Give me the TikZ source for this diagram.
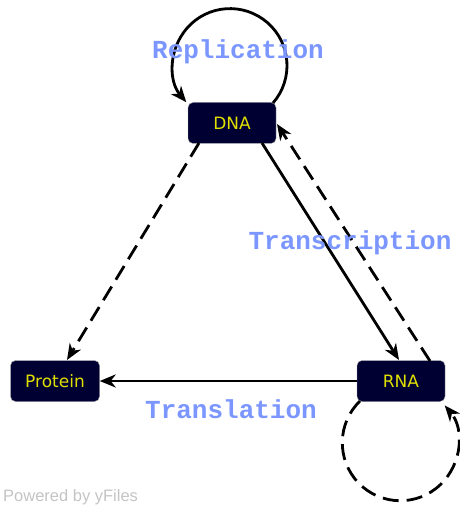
\documentclass[tikz,border=0pt]{standalone}
\usepackage{fontspec}
\setmainfont{Liberation Sans}
\newfontfamily\labfont{Liberation Mono}
\newfontfamily\nodefont{DejaVu Sans}
\usetikzlibrary{arrows.meta}
\definecolor{nodefill}{HTML}{000033}
\definecolor{nodetext}{HTML}{E0E000}
\definecolor{labblue}{HTML}{7B97FF}
\definecolor{wmark}{HTML}{C4C4C4}
\begin{document}
\begin{tikzpicture}[x=1pt,y=-1pt,
  molbox/.style={draw=gray!70,fill=nodefill,rounded corners=5pt,minimum height=41pt,inner sep=0pt,font=\nodefont\fontsize{17}{17}\selectfont,text=nodetext},
  edgelab/.style={font=\labfont\bfseries\fontsize{26}{26}\selectfont,text=labblue,inner sep=0pt},
  conn/.style={line width=2.8pt,-{Stealth[length=16pt,width=13pt,inset=5pt]}},
  dashconn/.style={conn,dash pattern=on 16pt off 8pt}]
\useasboundingbox (0,0) rectangle (459,505);
\node[molbox,minimum width=88pt] (dna) at (232,123) {DNA};
\node[molbox,minimum width=89pt] (protein) at (55,381) {Protein};
\node[molbox,minimum width=88pt] (rna) at (401,381) {RNA};
\coordinate (dnaA) at (273,103);
\coordinate (dnaB) at (187,102);
\coordinate (dnaBL) at (199,143);
\coordinate (dnaBR) at (262,143);
\coordinate (dnaR) at (277,124);
\coordinate (protT) at (67,360);
\coordinate (rnaT) at (399,360);
\coordinate (rnaTR) at (430,361);
\coordinate (rnaBL) at (360,401);
\coordinate (rnaBR) at (445,400);
% replication loop
\draw[conn] (dnaA) arc[start angle=-41,end angle=220,radius=57pt];
% DNA -> Protein
\draw[dashconn] (dnaBL) -- (protT);
% DNA -> RNA
\draw[conn] (dnaBR) -- (rnaT);
% RNA -> DNA
\draw[dashconn] (rnaTR) -- (dnaR);
% RNA -> Protein
\draw[conn] (rna.west) -- (protein.east);
% RNA self loop
\draw[dashconn] (rnaBL) arc[start angle=134,end angle=400,radius=58pt];
\node[edgelab] (lrep) at (238,52) {Replication};
\node[edgelab] (ltrc) at (350,243) {Transcription};
\node[edgelab] (ltrl) at (231,409) {Translation};
\node[font=\fontsize{16.5}{16.5}\selectfont,text=wmark,anchor=west,inner sep=0pt] (wm) at (3,497) {Powered by yFiles};
\end{tikzpicture}
\end{document}
